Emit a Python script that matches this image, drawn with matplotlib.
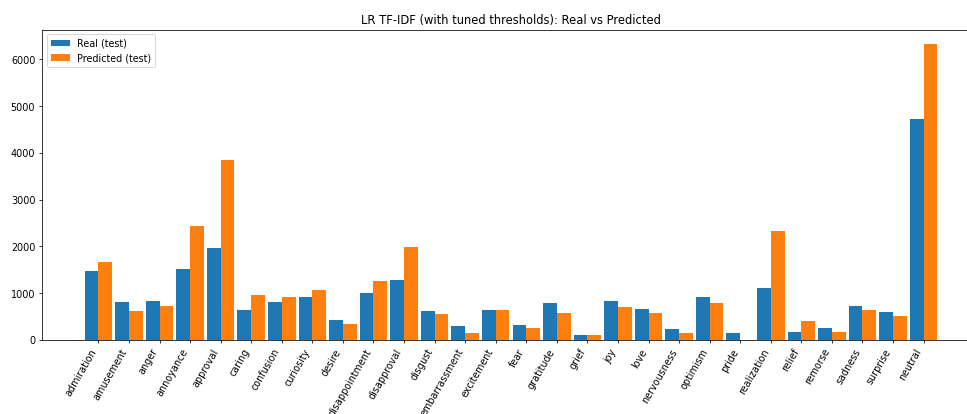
import matplotlib

matplotlib.use("Agg")
import matplotlib.pyplot as plt
import numpy as np

emotions = [
    "admiration", "amusement", "anger", "annoyance", "approval", "caring",
    "confusion", "curiosity", "desire", "disappointment", "disapproval",
    "disgust", "embarrassment", "excitement", "fear", "gratitude", "grief",
    "joy", "love", "nervousness", "optimism", "pride", "realization",
    "relief", "remorse", "sadness", "surprise", "neutral",
]
real_counts = [
    1475, 805, 830, 1510, 1960, 635, 805, 910, 430, 1005, 1275, 620, 300,
    650, 320, 785, 100, 840, 655, 235, 910, 150, 1100, 170, 250, 720, 600,
    4715,
]
pred_counts = [
    1660, 620, 725, 2435, 3840, 955, 910, 1060, 335, 1270, 1990, 565, 150,
    635, 265, 570, 95, 705, 575, 150, 785, 0, 2325, 400, 180, 650, 520,
    6320,
]

fig = plt.figure(figsize=(14, 6), dpi=100 * 967 / 1400)
ax = fig.add_axes([42 / 967, 74 / 414, 938 / 967, 310 / 414])

x = np.arange(len(emotions))
width = 0.45
ax.bar(x - width / 2, real_counts, width, label="Real (test)")
ax.bar(x + width / 2, pred_counts, width, label="Predicted (test)")

ax.set_xticks(x)
ax.set_xticklabels(emotions, rotation=60, ha="right")
ax.set_title("LR TF-IDF (with tuned thresholds): Real vs Predicted")
ax.legend(loc="upper left")

fig.savefig("out.png")
